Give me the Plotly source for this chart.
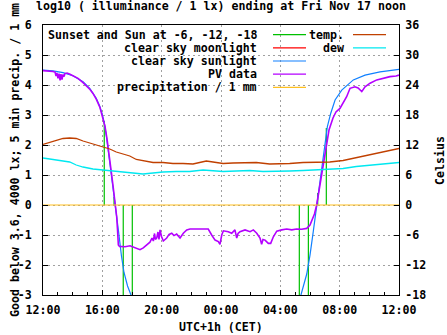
import pandas as pd
import plotly.graph_objects as go

# ---------------- data ----------------
# times are hours after Thu Nov 16 12:00 (CET)
sun_event_hours = [4.13, 4.79, 5.41, 6.02, 17.28, 17.89, 18.52, 19.10]
sun_event_values = [2.80, 0.27, -4.0, -4.0, -4.0, -4.0, 0.40, 2.57]

moon_hours = []
moon_values = []

sky_hours = [0.00, 0.67, 1.35, 2.02, 2.70, 3.15, 3.59, 3.82, 3.98, 4.13, 4.27, 4.42,
             4.58, 4.72, 4.85, 5.08, 5.29, 5.46, 5.70, 5.93, 6.13, None,
             17.19, 17.39, 17.78, 18.00, 18.22, 18.34, 18.44, 18.54, 18.74, 19.01,
             19.17, 19.40, 19.69, 20.14, 20.92, 21.71, 22.72, 24.00]
sky_values = [4.50, 4.47, 4.41, 4.31, 4.11, 3.89, 3.56, 3.30, 3.05, 2.75, 2.30, 1.75,
              1.10, 0.55, 0.00, -0.83, -1.70, -2.25, -2.70, -3.00, -3.40, None,
              -3.50, -3.00, -2.30, -1.67, -0.89, -0.43, 0.00, 0.35, 1.00, 2.07,
              2.61, 3.06, 3.50, 3.83, 4.17, 4.33, 4.44, 4.52]

pv_hours = [0.00, 0.34, 0.67, 0.81, 0.88, 0.94, 1.01, 1.08, 1.15, 1.21, 1.28, 1.35,
            1.42, 1.48, 1.62, 1.82, 2.02, 2.36, 2.70, 2.95, 3.17, 3.37, 3.59, 3.84,
            4.05, 4.18, 4.31, 4.45, 4.58, 4.72, 4.89, 4.97, 5.02, 5.08, 5.16, 5.31,
            5.53, 5.87, 6.09, 6.32, 6.54, 6.76, 6.99, 7.21, 7.35, 7.44, 7.52, 7.58,
            7.67, 7.75, 7.82, 7.89, 7.99, 8.11, 8.34, 8.50, 8.68, 8.83, 9.01, 9.24,
            9.46, 9.69, 9.91, 10.36, 10.81, 11.14, 11.37, 11.60, 11.82, 11.93, 12.05,
            12.16, 12.49, 12.72, 12.94, 13.06, 13.15, 13.28, 13.62, 13.96, 14.18,
            14.41, 14.63, 14.74, 14.83, 14.97, 15.19, 15.35, 15.53, 15.76, 16.09,
            16.43, 16.77, 17.10, 17.44, 17.78, 18.00, 18.16, 18.30, 18.45, 18.61,
            18.86, 19.08, 19.28, 19.55, 19.75, 20.02, 20.23, 20.47, 20.70, 21.03,
            21.24, 21.37, 21.49, 21.71, 22.05, 22.50, 22.94, 23.39, 23.80, 24.00]
pv_values = [4.48, 4.47, 4.45, 4.43, 4.30, 4.40, 4.22, 4.38, 4.15, 4.36, 4.18, 4.35,
             4.28, 4.38, 4.40, 4.36, 4.30, 4.22, 4.08, 3.97, 3.85, 3.72, 3.53, 3.25,
             2.90, 2.62, 2.22, 1.75, 1.20, 0.65, 0.00, -0.40, -0.80, -1.33, -1.38, -1.39,
             -1.39, -1.36, -1.41, -1.44, -1.49, -1.43, -1.33, -1.24, -1.10, -1.20, -0.95, -1.15,
             -1.10, -0.90, -1.15, -0.83, -1.05, -1.20, -1.10, -0.98, -0.94, -1.02, -0.97, -1.10,
             -0.94, -0.83, -0.80, -0.80, -0.80, -0.80, -1.00, -1.17, -1.22, -1.31, -1.00,
             -0.86, -0.89, -0.94, -0.83, -1.10, -0.95, -0.89, -0.83, -0.89, -0.83,
             -0.94, -1.10, -1.31, -1.15, -1.17, -1.28, -1.28, -1.06, -0.87, -0.83,
             -0.80, -0.83, -0.80, -0.81, -0.78, -0.67, -0.50, -0.30, 0.00, 0.50,
             1.17, 1.83, 2.50, 2.90, 3.10, 3.22, 3.40, 3.61, 3.89, 3.94,
             3.90, 3.83, 3.78, 3.94, 4.06, 4.17, 4.22, 4.28, 4.30, 4.33]

precip_hours = [0.0, 24.0]
precip_values = [0.0, 0.0]

temp_hours = [0.00, 0.67, 1.35, 1.80, 2.24, 2.70, 3.15, 3.59, 4.05, 4.50, 4.94, 5.39,
              5.85, 6.29, 6.74, 7.42, 8.09, 8.76, 9.44, 10.11, 10.56, 11.01, 11.46,
              12.14, 12.81, 13.48, 14.38, 15.28, 15.96, 16.63, 17.53, 18.43, 19.33,
              20.23, 21.12, 22.03, 22.92, 24.00]
temp_celsius = [12.1, 12.7, 13.3, 13.4, 13.3, 12.8, 12.4, 12.1, 11.6, 11.2, 10.6, 10.2,
                9.8, 9.1, 8.8, 8.5, 8.5, 8.3, 8.3, 8.2, 8.5, 8.8, 8.6,
                8.3, 8.4, 8.5, 8.5, 8.2, 8.2, 8.3, 8.5, 8.6, 8.6,
                8.9, 9.5, 10.0, 10.7, 11.3]

dew_hours = [0.00, 0.67, 1.35, 1.80, 2.24, 2.70, 3.37, 4.05, 4.72, 5.39, 6.07, 6.74,
             7.42, 8.09, 8.99, 9.89, 10.79, 11.46, 12.14, 13.03, 13.94, 14.83, 15.73,
             16.63, 17.53, 18.43, 19.33, 20.23, 21.12, 22.03, 22.92, 24.00]
dew_celsius = [9.4, 9.1, 8.8, 8.6, 8.0, 7.6, 7.2, 7.0, 6.8, 6.7, 6.5, 6.2,
               6.4, 6.6, 6.7, 6.7, 7.0, 6.9, 6.7, 6.8, 6.9, 6.7, 6.7,
               6.8, 6.9, 7.0, 7.1, 7.3, 7.7, 7.9, 8.2, 8.5]

x_tick_hours = [0, 4, 8, 12, 16, 20, 24]
x_tick_labels = ["12:00", "16:00", "20:00", "00:00", "04:00", "08:00", "12:00"]
y_tick_values = [-3, -2, -1, 0, 1, 2, 3, 4, 5, 6]
y_tick_labels = ["-3", "-2", "-1", "0", "1", "2", "3", "4", "5", "6"]
y2_tick_values = [-18, -12, -6, 0, 6, 12, 18, 24, 30, 36]
y2_tick_labels = ["-18", "-12", "-6", "0", "6", "12", "18", "24", "30", "36"]

legend_col1 = ["Sunset and Sun at -6, -12, -18", "clear sky moonlight",
               "clear sky sunlight", "PV data", "precipitation / 1 mm"]
legend_col2 = ["temp.", "dew"]

# ---------------- styling ----------------
W, H = 447, 335
L, R, T, B = 43, 399, 25, 295
FONT = "DejaVu Sans Mono"
FS = 11.6
C_GREEN, C_RED, C_BLUE, C_PURPLE = "#00c000", "#ff0000", "#1080ff", "#b400ff"
C_YELLOW, C_TEMP, C_DEW = "#ffc020", "#c04000", "#00e8f0"

base = pd.Timestamp("2023-11-16 12:00")


def to_time(hours):
    return [None if h is None else base + pd.Timedelta(hours=h) for h in hours]


def px(xp):
    return (xp - L) / (R - L)


def py(yp):
    return (B - yp) / (B - T)


fig = go.Figure()

# sun events as impulses from 0
imp_x, imp_y = [], []
for t, v in zip(to_time(sun_event_hours), sun_event_values):
    imp_x += [t, t, None]
    imp_y += [0, v, None]
fig.add_trace(go.Scatter(x=imp_x, y=imp_y, mode="lines", name=legend_col1[0],
                         line=dict(color=C_GREEN, width=1.2)))
fig.add_trace(go.Scatter(x=to_time(moon_hours), y=moon_values, mode="lines", name=legend_col1[1],
                         line=dict(color=C_RED, width=1)))
fig.add_trace(go.Scatter(x=to_time(sky_hours), y=sky_values, mode="lines", name=legend_col1[2],
                         line=dict(color=C_BLUE, width=1.2), connectgaps=False))
fig.add_trace(go.Scatter(x=to_time(pv_hours), y=pv_values, mode="lines", name=legend_col1[3],
                         line=dict(color=C_PURPLE, width=1.6)))
fig.add_trace(go.Scatter(x=to_time(precip_hours), y=precip_values, mode="lines", name=legend_col1[4],
                         line=dict(color=C_YELLOW, width=1.2)))
fig.add_trace(go.Scatter(x=to_time(temp_hours), y=temp_celsius, mode="lines", name=legend_col2[0],
                         yaxis="y2", line=dict(color=C_TEMP, width=1.3)))
fig.add_trace(go.Scatter(x=to_time(dew_hours), y=dew_celsius, mode="lines", name=legend_col2[1],
                         yaxis="y2", line=dict(color=C_DEW, width=1.3)))

font = dict(family=FONT, size=FS, color="black", weight="bold")
grid = dict(showgrid=True, gridcolor="#a0a0a0", gridwidth=1, griddash="2px,3px")

fig.update_layout(
    width=W, height=H,
    margin=dict(l=L, r=W - R, t=T, b=H - B, autoexpand=False),
    paper_bgcolor="white", plot_bgcolor="white",
    font=font, showlegend=False,
    xaxis=dict(type="date", range=[base, base + pd.Timedelta(hours=24)],
               tickvals=to_time(x_tick_hours), ticktext=x_tick_labels,
               ticks="inside", ticklen=5, tickcolor="black",
               minor=dict(dtick=3600000, tick0=base, ticks="inside", ticklen=3,
                          tickcolor="black", showgrid=False),
               showline=True, linecolor="black", linewidth=1, mirror=True,
               zeroline=False, ticklabelstandoff=4, **grid),
    yaxis=dict(range=[-3, 6], tickvals=y_tick_values, ticktext=y_tick_labels,
               ticks="inside", ticklen=5, tickcolor="black",
               showline=True, linecolor="black", linewidth=1, mirror=True,
               zeroline=False, ticklabelstandoff=8, **grid),
    yaxis2=dict(range=[-18, 36], overlaying="y", side="right",
                tickvals=y2_tick_values, ticktext=y2_tick_labels,
                ticks="inside", ticklen=5, tickcolor="black",
                showline=True, linecolor="black", linewidth=1,
                showgrid=False, zeroline=False, ticklabelstandoff=3),
)

# opaque key area (hides grid, not the data)
fig.add_shape(type="rect", xref="paper", yref="paper", layer="between",
              x0=px(L + 1), x1=px(307), y0=py(93), y1=py(T + 1),
              fillcolor="white", line=dict(width=0))
fig.add_shape(type="rect", xref="paper", yref="paper", layer="between",
              x0=px(307), x1=px(391), y0=py(54), y1=py(T + 1),
              fillcolor="white", line=dict(width=0))

# key entries: right-aligned text followed by a line sample
row0, row_step = 34.7, 13.15
col1_colors = [C_GREEN, C_RED, C_BLUE, C_PURPLE, C_YELLOW]
col2_colors = [C_TEMP, C_DEW]
for i, (txt, col) in enumerate(zip(legend_col1, col1_colors)):
    yy = row0 + i * row_step
    fig.add_annotation(text=txt, xref="paper", yref="paper", x=px(259), y=py(yy),
                       xanchor="right", yanchor="middle", showarrow=False, font=font)
    fig.add_shape(type="line", xref="paper", yref="paper", x0=px(273), x1=px(306),
                  y0=py(yy), y1=py(yy), line=dict(color=col, width=1.2))
for i, (txt, col) in enumerate(zip(legend_col2, col2_colors)):
    yy = row0 + i * row_step
    fig.add_annotation(text=txt, xref="paper", yref="paper", x=px(346), y=py(yy),
                       xanchor="right", yanchor="middle", showarrow=False, font=font)
    fig.add_shape(type="line", xref="paper", yref="paper", x0=px(353), x1=px(386),
                  y0=py(yy), y1=py(yy), line=dict(color=col, width=1.2))

# titles
fig.add_annotation(text="log10 ( illuminance / 1 lx) ending at Fri Nov 17 noon",
                   xref="paper", yref="paper", x=0.5, y=py(6), xanchor="center",
                   yanchor="middle", showarrow=False, font=font)
fig.add_annotation(text="UTC+1h (CET)", xref="paper", yref="paper", x=0.5, y=py(327),
                   xanchor="center", yanchor="middle", showarrow=False, font=font)
fig.add_annotation(text="Good below 3.6, 4000 lx; 5 min precip. / 1 mm",
                   xref="paper", yref="paper", x=px(15), y=0.5, textangle=-90,
                   xanchor="center", yanchor="middle", showarrow=False, font=font)
fig.add_annotation(text="Celsius", xref="paper", yref="paper", x=px(440), y=0.5,
                   textangle=-90, xanchor="center", yanchor="middle",
                   showarrow=False, font=font)

fig.write_html("out.html")
